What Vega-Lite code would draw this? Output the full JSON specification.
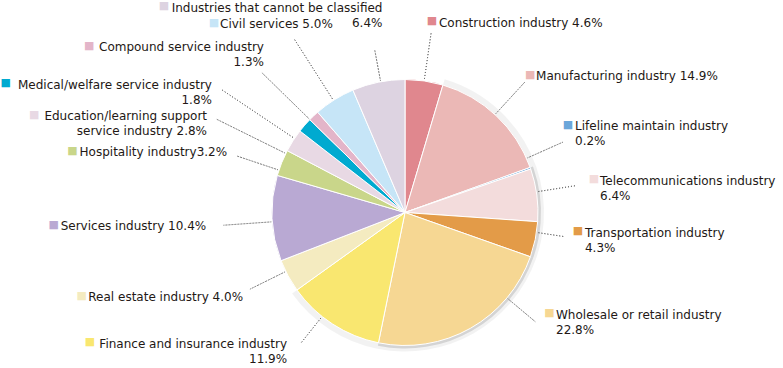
{
  "$schema": "https://vega.github.io/schema/vega-lite/v6.json",
  "width": 756,
  "height": 311,
  "autosize": {"type": "none"},
  "padding": {"left": 27, "top": 57, "right": 0, "bottom": 0},
  "background": "#ffffff",
  "config": {
    "view": {"stroke": null},
    "text": {"font": "DejaVu Sans", "fontSize": 12, "color": "#231815", "lineHeight": 15}
  },
  "data": {
    "values": [
      {"name": "Construction industry", "value": 4.6, "label": "Construction industry 4.6%"},
      {"name": "Manufacturing industry", "value": 14.9, "label": "Manufacturing industry 14.9%"},
      {"name": "Lifeline maintain industry", "value": 0.2, "label": ["Lifeline maintain industry", "0.2%"]},
      {"name": "Telecommunications industry", "value": 6.4, "label": ["Telecommunications industry", "6.4%"]},
      {"name": "Transportation industry", "value": 4.3, "label": ["Transportation industry", "4.3%"]},
      {"name": "Wholesale or retail industry", "value": 22.8, "label": ["Wholesale or retail industry", "22.8%"]},
      {"name": "Finance and insurance industry", "value": 11.9, "label": ["Finance and insurance industry", "11.9%"]},
      {"name": "Real estate industry", "value": 4.0, "label": "Real estate industry 4.0%"},
      {"name": "Services industry", "value": 10.4, "label": "Services industry 10.4%"},
      {"name": "Hospitality industry", "value": 3.2, "label": "Hospitality industry3.2%"},
      {"name": "Education/learning support service industry", "value": 2.8, "label": ["Education/learning support", "service industry 2.8%"]},
      {"name": "Medical/welfare service industry", "value": 1.8, "label": ["Medical/welfare service industry", "1.8%"]},
      {"name": "Compound service industry", "value": 1.3, "label": ["Compound service industry", "1.3%"]},
      {"name": "Civil services", "value": 5.0, "label": "Civil services 5.0%"},
      {"name": "Industries that cannot be classified", "value": 6.4, "label": ["Industries that cannot be classified", "6.4%"]}
    ]
  },
  "transform": [
    {"window": [{"op": "row_number", "as": "idx"}]},
    {"stack": "value", "groupby": [], "sort": [{"field": "idx", "order": "ascending"}], "offset": "zero", "as": ["v0", "v1"]},
    {"calculate": "(datum.v0 + datum.v1) / 2", "as": "mid"}
  ],
  "layer": [
    {
      "transform": [{"filter": "datum.idx >= 2 && datum.idx <= 7"}],
      "mark": {"type": "arc", "radius": 139, "radius2": 132, "color": "#000000", "opacity": 0.05},
      "encoding": {
        "theta": {"field": "v0", "type": "quantitative", "stack": null, "scale": {"domain": [0, 100], "range": [0, 6.283185307179586]}},
        "theta2": {"field": "v1"}
      }
    },
    {
      "transform": [{"filter": "datum.idx >= 3 && datum.idx <= 6"}],
      "mark": {"type": "arc", "radius": 136, "radius2": 132, "color": "#000000", "opacity": 0.12},
      "encoding": {
        "theta": {"field": "v0", "type": "quantitative", "stack": null, "scale": {"domain": [0, 100], "range": [0, 6.283185307179586]}},
        "theta2": {"field": "v1"}
      }
    },
    {
      "mark": {"type": "arc", "radius": 133, "stroke": "#ffffff", "strokeWidth": 1},
      "encoding": {
        "theta": {"field": "v0", "type": "quantitative", "stack": null, "scale": {"domain": [0, 100], "range": [0, 6.283185307179586]}},
        "theta2": {"field": "v1"},
        "color": {
          "field": "name", "type": "nominal", "legend": null,
          "scale": {
            "domain": ["Construction industry", "Manufacturing industry", "Lifeline maintain industry", "Telecommunications industry", "Transportation industry", "Wholesale or retail industry", "Finance and insurance industry", "Real estate industry", "Services industry", "Hospitality industry", "Education/learning support service industry", "Medical/welfare service industry", "Compound service industry", "Civil services", "Industries that cannot be classified"],
            "range": ["#E0878E", "#EBB8B6", "#6BA6DA", "#F3DCDC", "#E39B48", "#F6D793", "#F9E770", "#F4EBC0", "#B9A9D3", "#C9D68A", "#E8D9E4", "#00AAD0", "#E3B5C9", "#C6E5F7", "#DDD3E1"]
          }
        }
      }
    },
    {
      "transform": [{"filter": "datum.name === 'Construction industry'"}],
      "encoding": {"theta": {"field": "mid", "type": "quantitative", "stack": null, "scale": {"domain": [0, 100], "range": [0, 6.283185307179586]}}},
      "layer": [
        {"mark": {"type": "arc", "radius": 181, "radius2": 134, "thetaOffset": 0, "theta2Offset": 0, "filled": false, "stroke": "#707070", "strokeWidth": 1, "strokeDash": [1, 2]}, "encoding": {"theta2": {"field": "mid"}}},
        {"mark": {"type": "text", "radius": 180, "dx": 1, "dy": -13, "align": "center", "baseline": "middle", "font": "DejaVu Sans", "fontSize": 11, "color": "#E0878E", "text": "■"}},
        {"mark": {"type": "text", "radius": 180, "dx": 8, "dy": -7, "align": "left", "baseline": "alphabetic"}, "encoding": {"text": {"field": "label"}}}
      ]
    },
    {
      "transform": [{"filter": "datum.name === 'Manufacturing industry'"}],
      "encoding": {"theta": {"field": "mid", "type": "quantitative", "stack": null, "scale": {"domain": [0, 100], "range": [0, 6.283185307179586]}}},
      "layer": [
        {"mark": {"type": "arc", "radius": 177, "radius2": 134, "thetaOffset": -0.014, "theta2Offset": -0.014, "filled": false, "stroke": "#707070", "strokeWidth": 1, "strokeDash": [1, 2]}, "encoding": {"theta2": {"field": "mid"}}},
        {"mark": {"type": "text", "radius": 180, "dx": 1.6, "dy": -6.9, "align": "center", "baseline": "middle", "font": "DejaVu Sans", "fontSize": 11, "color": "#EBB8B6", "text": "■"}},
        {"mark": {"type": "text", "radius": 180, "dx": 7.4, "dy": -1.7, "align": "left", "baseline": "alphabetic"}, "encoding": {"text": {"field": "label"}}}
      ]
    },
    {
      "transform": [{"filter": "datum.name === 'Lifeline maintain industry'"}],
      "encoding": {"theta": {"field": "mid", "type": "quantitative", "stack": null, "scale": {"domain": [0, 100], "range": [0, 6.283185307179586]}}},
      "layer": [
        {"mark": {"type": "arc", "radius": 173, "radius2": 134, "thetaOffset": -0.08, "theta2Offset": -0.08, "filled": false, "stroke": "#707070", "strokeWidth": 1, "strokeDash": [1, 2]}, "encoding": {"theta2": {"field": "mid"}}},
        {"mark": {"type": "text", "radius": 180, "dx": -6.7, "dy": -27.9, "align": "center", "baseline": "middle", "font": "DejaVu Sans", "fontSize": 11, "color": "#6BA6DA", "text": "■"}},
        {"mark": {"type": "text", "radius": 180, "dx": 0.3, "dy": -22.9, "align": "left", "baseline": "alphabetic"}, "encoding": {"text": {"field": "label"}}}
      ]
    },
    {
      "transform": [{"filter": "datum.name === 'Telecommunications industry'"}],
      "encoding": {"theta": {"field": "mid", "type": "quantitative", "stack": null, "scale": {"domain": [0, 100], "range": [0, 6.283185307179586]}}},
      "layer": [
        {"mark": {"type": "arc", "radius": 172, "radius2": 134, "thetaOffset": -0.024, "theta2Offset": -0.024, "filled": false, "stroke": "#707070", "strokeWidth": 1, "strokeDash": [1, 2]}, "encoding": {"theta2": {"field": "mid"}}},
        {"mark": {"type": "text", "radius": 180, "dx": 10.6, "dy": -9.8, "align": "center", "baseline": "middle", "font": "DejaVu Sans", "fontSize": 11, "color": "#F3DCDC", "text": "■"}},
        {"mark": {"type": "text", "radius": 180, "dx": 16.6, "dy": -4.3, "align": "left", "baseline": "alphabetic"}, "encoding": {"text": {"field": "label"}}}
      ]
    },
    {
      "transform": [{"filter": "datum.name === 'Transportation industry'"}],
      "encoding": {"theta": {"field": "mid", "type": "quantitative", "stack": null, "scale": {"domain": [0, 100], "range": [0, 6.283185307179586]}}},
      "layer": [
        {"mark": {"type": "arc", "radius": 160, "radius2": 134, "thetaOffset": -0.054, "theta2Offset": -0.054, "filled": false, "stroke": "#707070", "strokeWidth": 1, "strokeDash": [1, 2]}, "encoding": {"theta2": {"field": "mid"}}},
        {"mark": {"type": "text", "radius": 180, "dx": -3.3, "dy": -17.8, "align": "center", "baseline": "middle", "font": "DejaVu Sans", "fontSize": 11, "color": "#E39B48", "text": "■"}},
        {"mark": {"type": "text", "radius": 180, "dx": 3.7, "dy": -12.3, "align": "left", "baseline": "alphabetic"}, "encoding": {"text": {"field": "label"}}}
      ]
    },
    {
      "transform": [{"filter": "datum.name === 'Wholesale or retail industry'"}],
      "encoding": {"theta": {"field": "mid", "type": "quantitative", "stack": null, "scale": {"domain": [0, 100], "range": [0, 6.283185307179586]}}},
      "layer": [
        {"mark": {"type": "arc", "radius": 170, "radius2": 134, "thetaOffset": -0.358, "theta2Offset": -0.358, "filled": false, "stroke": "#707070", "strokeWidth": 1, "strokeDash": [1, 2]}, "encoding": {"theta2": {"field": "mid"}}},
        {"mark": {"type": "text", "radius": 180, "dx": 55.8, "dy": -56.1, "align": "center", "baseline": "middle", "font": "DejaVu Sans", "fontSize": 11, "color": "#F6D793", "text": "■"}},
        {"mark": {"type": "text", "radius": 180, "dx": 62.3, "dy": -50.6, "align": "left", "baseline": "alphabetic"}, "encoding": {"text": {"field": "label"}}}
      ]
    },
    {
      "transform": [{"filter": "datum.name === 'Finance and insurance industry'"}],
      "encoding": {"theta": {"field": "mid", "type": "quantitative", "stack": null, "scale": {"domain": [0, 100], "range": [0, 6.283185307179586]}}},
      "layer": [
        {"mark": {"type": "arc", "radius": 166, "radius2": 134, "thetaOffset": 0.098, "theta2Offset": 0.098, "filled": false, "stroke": "#707070", "strokeWidth": 1, "strokeDash": [1, 2]}, "encoding": {"theta2": {"field": "mid"}}},
        {"mark": {"type": "text", "radius": 180, "dx": -217.1, "dy": -21.1, "align": "center", "baseline": "middle", "font": "DejaVu Sans", "fontSize": 11, "color": "#F9E770", "text": "■"}},
        {"mark": {"type": "text", "radius": 180, "dx": -20, "dy": -15.9, "align": "right", "baseline": "alphabetic"}, "encoding": {"text": {"field": "label"}}}
      ]
    },
    {
      "transform": [{"filter": "datum.name === 'Real estate industry'"}],
      "encoding": {"theta": {"field": "mid", "type": "quantitative", "stack": null, "scale": {"domain": [0, 100], "range": [0, 6.283185307179586]}}},
      "layer": [
        {"mark": {"type": "arc", "radius": 173, "radius2": 134, "thetaOffset": 0.037, "theta2Offset": 0.037, "filled": false, "stroke": "#707070", "strokeWidth": 1, "strokeDash": [1, 2]}, "encoding": {"theta2": {"field": "mid"}}},
        {"mark": {"type": "text", "radius": 180, "dx": -165, "dy": -2.7, "align": "center", "baseline": "middle", "font": "DejaVu Sans", "fontSize": 11, "color": "#F4EBC0", "text": "■"}},
        {"mark": {"type": "text", "radius": 180, "dx": -158.4, "dy": 2.3, "align": "left", "baseline": "alphabetic"}, "encoding": {"text": {"field": "label"}}}
      ]
    },
    {
      "transform": [{"filter": "datum.name === 'Services industry'"}],
      "encoding": {"theta": {"field": "mid", "type": "quantitative", "stack": null, "scale": {"domain": [0, 100], "range": [0, 6.283185307179586]}}},
      "layer": [
        {"mark": {"type": "arc", "radius": 182, "radius2": 134, "thetaOffset": -0.026, "theta2Offset": -0.026, "filled": false, "stroke": "#707070", "strokeWidth": 1, "strokeDash": [1, 2]}, "encoding": {"theta2": {"field": "mid"}}},
        {"mark": {"type": "text", "radius": 180, "dx": -171.4, "dy": 4.6, "align": "center", "baseline": "middle", "font": "DejaVu Sans", "fontSize": 11, "color": "#B9A9D3", "text": "■"}},
        {"mark": {"type": "text", "radius": 180, "dx": -164.5, "dy": 9.6, "align": "left", "baseline": "alphabetic"}, "encoding": {"text": {"field": "label"}}}
      ]
    },
    {
      "transform": [{"filter": "datum.name === 'Hospitality industry'"}],
      "encoding": {"theta": {"field": "mid", "type": "quantitative", "stack": null, "scale": {"domain": [0, 100], "range": [0, 6.283185307179586]}}},
      "layer": [
        {"mark": {"type": "arc", "radius": 177, "radius2": 134, "thetaOffset": -0.059, "theta2Offset": -0.059, "filled": false, "stroke": "#707070", "strokeWidth": 1, "strokeDash": [1, 2]}, "encoding": {"theta2": {"field": "mid"}}},
        {"mark": {"type": "text", "radius": 180, "dx": -165.5, "dy": 5.6, "align": "center", "baseline": "middle", "font": "DejaVu Sans", "fontSize": 11, "color": "#C9D68A", "text": "■"}},
        {"mark": {"type": "text", "radius": 180, "dx": -158.5, "dy": 10.8, "align": "left", "baseline": "alphabetic"}, "encoding": {"text": {"field": "label"}}}
      ]
    },
    {
      "transform": [{"filter": "datum.name === 'Education/learning support service industry'"}],
      "encoding": {"theta": {"field": "mid", "type": "quantitative", "stack": null, "scale": {"domain": [0, 100], "range": [0, 6.283185307179586]}}},
      "layer": [
        {"mark": {"type": "arc", "radius": 210, "radius2": 134, "thetaOffset": -0.112, "theta2Offset": -0.112, "filled": false, "stroke": "#707070", "strokeWidth": 1, "strokeDash": [1, 2]}, "encoding": {"theta2": {"field": "mid"}}},
        {"mark": {"type": "text", "radius": 180, "dx": -219.4, "dy": -0.1, "align": "center", "baseline": "middle", "font": "DejaVu Sans", "fontSize": 11, "color": "#E8D9E4", "text": "■"}},
        {"mark": {"type": "text", "radius": 180, "dx": -46.6, "dy": 4.7, "align": "right", "baseline": "alphabetic"}, "encoding": {"text": {"field": "label"}}}
      ]
    },
    {
      "transform": [{"filter": "datum.name === 'Medical/welfare service industry'"}],
      "encoding": {"theta": {"field": "mid", "type": "quantitative", "stack": null, "scale": {"domain": [0, 100], "range": [0, 6.283185307179586]}}},
      "layer": [
        {"mark": {"type": "arc", "radius": 220, "radius2": 134, "thetaOffset": -0.126, "theta2Offset": -0.126, "filled": false, "stroke": "#707070", "strokeWidth": 1, "strokeDash": [1, 2]}, "encoding": {"theta2": {"field": "mid"}}},
        {"mark": {"type": "text", "radius": 180, "dx": -263.5, "dy": -11, "align": "center", "baseline": "middle", "font": "DejaVu Sans", "fontSize": 11, "color": "#00AAD0", "text": "■"}},
        {"mark": {"type": "text", "radius": 180, "dx": -57.3, "dy": -5.8, "align": "right", "baseline": "alphabetic"}, "encoding": {"text": {"field": "label"}}}
      ]
    },
    {
      "transform": [{"filter": "datum.name === 'Compound service industry'"}],
      "encoding": {"theta": {"field": "mid", "type": "quantitative", "stack": null, "scale": {"domain": [0, 100], "range": [0, 6.283185307179586]}}},
      "layer": [
        {"mark": {"type": "arc", "radius": 200, "radius2": 134, "thetaOffset": -0.04, "theta2Offset": -0.04, "filled": false, "stroke": "#707070", "strokeWidth": 1, "strokeDash": [1, 2]}, "encoding": {"theta2": {"field": "mid"}}},
        {"mark": {"type": "text", "radius": 180, "dx": -192.2, "dy": -35.9, "align": "center", "baseline": "middle", "font": "DejaVu Sans", "fontSize": 11, "color": "#E3B5C9", "text": "■"}},
        {"mark": {"type": "text", "radius": 180, "dx": -17.4, "dy": -31, "align": "right", "baseline": "alphabetic"}, "encoding": {"text": {"field": "label"}}}
      ]
    },
    {
      "transform": [{"filter": "datum.name === 'Civil services'"}],
      "encoding": {"theta": {"field": "mid", "type": "quantitative", "stack": null, "scale": {"domain": [0, 100], "range": [0, 6.283185307179586]}}},
      "layer": [
        {"mark": {"type": "arc", "radius": 205, "radius2": 134, "thetaOffset": -0.009, "theta2Offset": -0.009, "filled": false, "stroke": "#707070", "strokeWidth": 1, "strokeDash": [1, 2]}, "encoding": {"theta2": {"field": "mid"}}},
        {"mark": {"type": "text", "radius": 180, "dx": -95.5, "dy": -36.7, "align": "center", "baseline": "middle", "font": "DejaVu Sans", "fontSize": 11, "color": "#C6E5F7", "text": "■"}},
        {"mark": {"type": "text", "radius": 180, "dx": -89.5, "dy": -31.9, "align": "left", "baseline": "alphabetic"}, "encoding": {"text": {"field": "label"}}}
      ]
    },
    {
      "transform": [{"filter": "datum.name === 'Industries that cannot be classified'"}],
      "encoding": {"theta": {"field": "mid", "type": "quantitative", "stack": null, "scale": {"domain": [0, 100], "range": [0, 6.283185307179586]}}},
      "layer": [
        {"mark": {"type": "arc", "radius": 165, "radius2": 134, "thetaOffset": 0.017, "theta2Offset": 0.017, "filled": false, "stroke": "#707070", "strokeWidth": 1, "strokeDash": [1, 2]}, "encoding": {"theta2": {"field": "mid"}}},
        {"mark": {"type": "text", "radius": 180, "dx": -205.1, "dy": -29.8, "align": "center", "baseline": "middle", "font": "DejaVu Sans", "fontSize": 11, "color": "#DDD3E1", "text": "■"}},
        {"mark": {"type": "text", "radius": 180, "dx": 13.4, "dy": -24.4, "align": "right", "baseline": "alphabetic"}, "encoding": {"text": {"field": "label"}}}
      ]
    }
  ]
}
